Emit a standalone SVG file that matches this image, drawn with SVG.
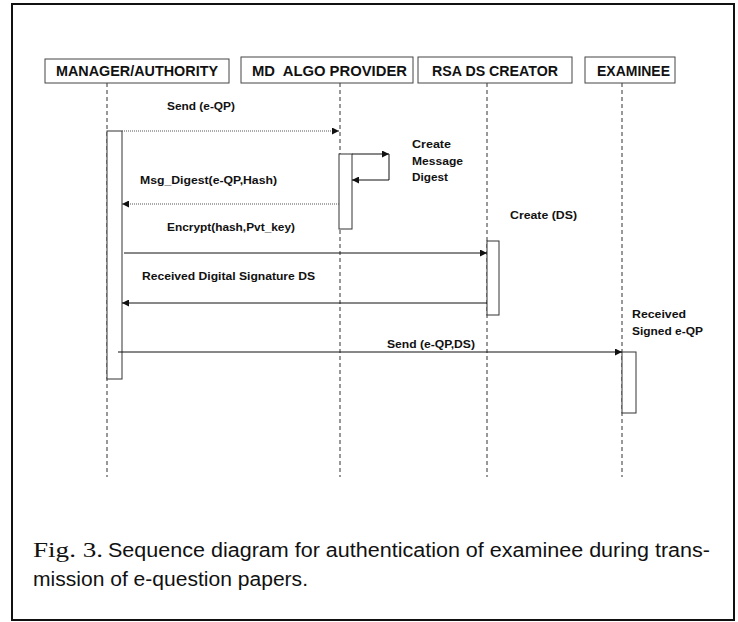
<svg xmlns="http://www.w3.org/2000/svg" width="738" height="622" viewBox="0 0 738 622">
<defs>
<style>
.frame{fill:#fff;stroke:#111;stroke-width:2}
.hbox{fill:#fff;stroke:#444;stroke-width:1}
.htxt{font-family:"Liberation Sans",Arial,sans-serif;font-weight:bold;font-size:14px;fill:#111;text-anchor:middle;dominant-baseline:central}
.life{stroke:#333;stroke-width:1;stroke-dasharray:4,3;fill:none}
.act{fill:#fff;stroke:#333;stroke-width:1}
.msg{stroke:#111;stroke-width:1;fill:none}
.dot{stroke:#555;stroke-width:1;stroke-dasharray:1,1;fill:none}
.lbl{font-family:"Liberation Sans",Arial,sans-serif;font-weight:bold;font-size:11px;fill:#111;dominant-baseline:central}
.cap{font-family:"Liberation Sans",Arial,sans-serif;font-size:20px;fill:#111}
.capser{font-family:"Liberation Serif","Times New Roman",serif;font-size:22px}
</style>
<marker id="ah" viewBox="0 0 10 10" refX="10" refY="5" markerWidth="8" markerHeight="7" markerUnits="userSpaceOnUse" orient="auto">
<path d="M0,0 L10,5 L0,10 z" fill="#111"/>
</marker>
</defs>
<rect x="0" y="0" width="738" height="622" fill="#fff"/>
<rect class="frame" x="12" y="4" width="722" height="616"/>

<g id="lifelines">
<line class="life" x1="107" y1="83" x2="107" y2="477"/>
<line class="life" x1="340" y1="83" x2="340" y2="477"/>
<line class="life" x1="487" y1="83" x2="487" y2="477"/>
<line class="life" x1="622" y1="83" x2="622" y2="477"/>
</g>

<g id="manager">
<rect class="hbox" x="45" y="59" width="184" height="24"/>
<text class="htxt" x="137" y="71" textLength="162" lengthAdjust="spacingAndGlyphs">MANAGER/AUTHORITY</text>
<rect class="act" x="107" y="131" width="15" height="248"/>
</g>
<g id="md-provider">
<rect class="hbox" x="241" y="57" width="172" height="26"/>
<text class="htxt" x="329.5" y="71" textLength="155" lengthAdjust="spacingAndGlyphs" xml:space="preserve">MD  ALGO PROVIDER</text>
<rect class="act" x="339" y="154" width="13" height="75"/>
</g>
<g id="rsa-creator">
<rect class="hbox" x="418" y="57" width="154" height="26"/>
<text class="htxt" x="495" y="71" textLength="126" lengthAdjust="spacingAndGlyphs">RSA DS CREATOR</text>
<rect class="act" x="487" y="241" width="12" height="74"/>
</g>
<g id="examinee">
<rect class="hbox" x="585" y="57" width="90" height="26"/>
<text class="htxt" x="633.5" y="71" textLength="73" lengthAdjust="spacingAndGlyphs">EXAMINEE</text>
<rect class="act" x="622" y="352" width="14" height="61"/>
</g>

<g id="connectors">
<line class="dot" x1="122" y1="131" x2="339" y2="131" marker-end="url(#ah)"/>
<polyline class="msg" points="352,154 389,154" marker-end="url(#ah)"/>
<polyline class="msg" points="389,154 389,180 352,180" marker-end="url(#ah)"/>
<line class="dot" x1="339" y1="204" x2="122" y2="204" marker-end="url(#ah)"/>
<line class="msg" x1="124" y1="253" x2="487" y2="253" marker-end="url(#ah)"/>
<line class="msg" x1="487" y1="303" x2="122" y2="303" marker-end="url(#ah)"/>
<line class="msg" x1="118" y1="352" x2="622" y2="352" marker-end="url(#ah)"/>
</g>

<g id="labels">
<text class="lbl" x="167" y="106" textLength="68" lengthAdjust="spacingAndGlyphs">Send (e-QP)</text>
<text class="lbl" x="412" y="144" textLength="39" lengthAdjust="spacingAndGlyphs">Create</text>
<text class="lbl" x="412" y="161" textLength="51" lengthAdjust="spacingAndGlyphs">Message</text>
<text class="lbl" x="412" y="177" textLength="36" lengthAdjust="spacingAndGlyphs">Digest</text>
<text class="lbl" x="140" y="180" textLength="137" lengthAdjust="spacingAndGlyphs">Msg_Digest(e-QP,Hash)</text>
<text class="lbl" x="510" y="215" textLength="67" lengthAdjust="spacingAndGlyphs">Create (DS)</text>
<text class="lbl" x="167" y="227" textLength="128" lengthAdjust="spacingAndGlyphs">Encrypt(hash,Pvt_key)</text>
<text class="lbl" x="142" y="276" textLength="173" lengthAdjust="spacingAndGlyphs">Received Digital Signature DS</text>
<text class="lbl" x="632" y="314" textLength="54" lengthAdjust="spacingAndGlyphs">Received</text>
<text class="lbl" x="632" y="331" textLength="71" lengthAdjust="spacingAndGlyphs">Signed e-QP</text>
<text class="lbl" x="387" y="344" textLength="88" lengthAdjust="spacingAndGlyphs">Send (e-QP,DS)</text>
</g>

<g id="caption">
<text class="cap" x="33" y="557"><tspan class="capser" textLength="70" lengthAdjust="spacingAndGlyphs">Fig. 3.</tspan><tspan x="108" textLength="602" lengthAdjust="spacingAndGlyphs">Sequence diagram for authentication of examinee during trans-</tspan></text>
<text class="cap" x="33" y="586" textLength="275" lengthAdjust="spacingAndGlyphs">mission of e-question papers.</text>
</g>
</svg>
